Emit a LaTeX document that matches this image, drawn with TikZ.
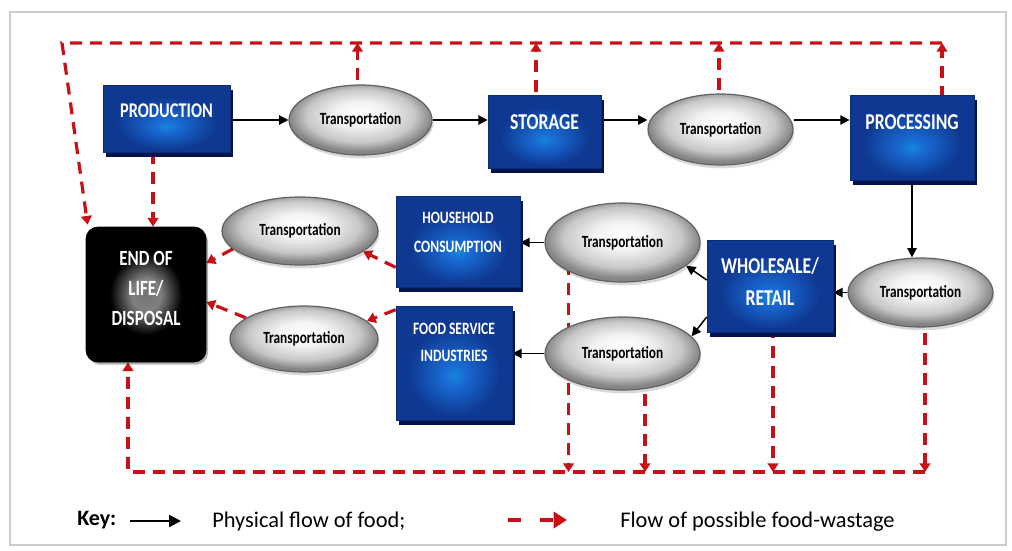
\documentclass[tikz,border=0pt]{standalone}
\usepackage{fontspec}
\setmainfont{Carlito}
\newfontfamily\condf{Carlito}[FakeStretch=0.78]
\usetikzlibrary{arrows.meta,calc,shapes.geometric,shadows,backgrounds}
\definecolor{bxlight}{RGB}{25,105,210}
\definecolor{bxdark}{RGB}{14,56,145}
\definecolor{bxshadow}{RGB}{4,20,78}
\definecolor{wred}{RGB}{200,16,22}
\pgfdeclareradialshading{boxsh}{\pgfpoint{0bp}{-6bp}}{color(0bp)=(bxlight!80!cyan); color(5bp)=(bxlight); color(20bp)=(bxdark); color(50bp)=(bxdark)}
\pgfdeclareradialshading{ellsh}{\pgfpoint{0bp}{5bp}}{color(0bp)=(white); color(9bp)=(white!95!black); color(19bp)=(black!22); color(25bp)=(black!48); color(50bp)=(black!48)}
\pgfdeclareradialshading{eolsh}{\pgfpoint{0bp}{0bp}}{color(0bp)=(black!55); color(6bp)=(black!50); color(15bp)=(black); color(50bp)=(black)}
\tikzset{
  bluebox/.style={rectangle, shade, shading=boxsh, draw=bxdark!80!black, line width=0.5pt,
    inner sep=0pt, text=white, align=center,
    drop shadow={shadow xshift=2pt, shadow yshift=-3.5pt, fill=bxshadow, opacity=1}},
  trans/.style={ellipse, shade, shading=ellsh, draw=black!62, line width=0.9pt, inner sep=0pt,
    text=black, font=\condf\bfseries\fontsize{12.8pt}{14pt}\selectfont,
    drop shadow={shadow xshift=1pt, shadow yshift=-2.5pt, fill=black, opacity=0.15}},
  eolbox/.style={rectangle, rounded corners=9pt, shade, shading=eolsh, draw=black, line width=0.6pt,
    inner sep=0pt, text=white, align=center,
    drop shadow={shadow xshift=1.5pt, shadow yshift=-2pt, fill=black, opacity=0.3}},
  waste/.style={draw=wred, line width=2.4pt, dash pattern=on 9pt off 6pt,
    -{Triangle[length=6.5pt,width=8pt]}},
  flow/.style={draw=black, line width=1.1pt, -{Triangle[length=7pt,width=7pt]}},
  keytext/.style={anchor=west, inner sep=0pt, font=\fontsize{16.8pt}{18pt}\selectfont}
}
\begin{document}
\begin{tikzpicture}[x=0.75pt,y=-0.75pt]
\useasboundingbox (0,0) rectangle (1012,550);
\begin{scope}[on background layer]
  \fill[white] (0,0) rectangle (1012,550);
  \draw[black!20, line width=0.8pt] (10,12) rectangle (1006,545);
\end{scope}

% boxes
\node[bluebox, font=\condf\bfseries\fontsize{15.7pt}{20pt}\selectfont, minimum width=95.25pt, minimum height=50.25pt, text depth=11.25pt] (prod) at (166.5,118.5) {PRODUCTION};
\node[bluebox, font=\condf\bfseries\fontsize{17pt}{20pt}\selectfont, minimum width=84.75pt, minimum height=54.75pt, text depth=14.25pt] (stor) at (544.5,131.5) {STORAGE};
\node[bluebox, font=\condf\bfseries\fontsize{17pt}{20pt}\selectfont, minimum width=93pt, minimum height=63.75pt, text depth=22.5pt] (proc) at (912,137.5) {PROCESSING};
\node[bluebox, font=\condf\bfseries\fontsize{13pt}{22pt}\selectfont, minimum width=93pt, minimum height=68.25pt, text depth=14.25pt] (hh) at (458,241.5) {HOUSEHOLD\\CONSUMPTION};
\node[bluebox, font=\condf\bfseries\fontsize{13pt}{20pt}\selectfont, minimum width=87pt, minimum height=85.5pt, text depth=31.5pt] (fs) at (454,363) {FOOD SERVICE\\INDUSTRIES};
\node[bluebox, font=\condf\bfseries\fontsize{17pt}{24pt}\selectfont, minimum width=94.5pt, minimum height=69pt, text depth=6pt] (wr) at (770,286) {WHOLESALE/\\RETAIL};
\node[eolbox, font=\condf\bfseries\fontsize{16.3pt}{22.5pt}\selectfont, minimum width=90pt, minimum height=101.25pt, text depth=9pt] (eol) at (146,294.5) {END OF\\LIFE/\\DISPOSAL};

% transport ellipses
\node[trans, minimum width=107.25pt, minimum height=52.5pt] (t1) at (360.5,120) {Transportation};
\node[trans, minimum width=108.75pt, minimum height=53.25pt] (t2) at (720.5,129.5) {Transportation};
\node[trans, minimum width=108.75pt, minimum height=51.75pt] (tr) at (920.5,292.5) {Transportation};
\node[trans, minimum width=116.25pt, minimum height=59.25pt] (thhr) at (622.5,242.5) {Transportation};
\node[trans, minimum width=116.25pt, minimum height=54.75pt] (tfsr) at (622.5,353.5) {Transportation};
\node[trans, minimum width=117pt, minimum height=51pt] (thhl) at (300,231) {Transportation};
\node[trans, minimum width=111pt, minimum height=49.5pt] (tfsl) at (304,339) {Transportation};

% key
\node[anchor=west, inner sep=0pt, font=\bfseries\fontsize{16.5pt}{18pt}\selectfont] (key) at (77,520) {Key:};
\coordinate (kf1) at (130,521);
\coordinate (kf2) at (181,521);
\node[keytext] (k1) at (212,522) {Physical flow of food;};
\coordinate (kw1) at (508,520);
\coordinate (kw2) at (567,520);
\node[keytext] (k2) at (620,522) {Flow of possible food-wastage};
\draw[flow, line width=1.5pt, -{Triangle[length=9pt,width=9pt]}] (kf1) -- (kf2);
\draw[draw=wred, line width=3.6pt, dash pattern=on 10pt off 14pt, -{Triangle[length=10pt,width=12pt]}] (kw1) -- (kw2);

\begin{scope}[on background layer]
  % frame coordinates of the wastage collectors
  \coordinate (tl) at (62,43);
  \coordinate (tr0) at (942,43);
  \coordinate (bl) at (128,472);
  \coordinate (br) at (925,472);
  % top collector to disposal
  \draw[waste] (tr0) -- (tl) -- ($(eol.north west)+(2,-2)$);
  \coordinate (pd) at ($(prod.south)+(-13.5,0)$);
  \draw[waste] (pd) -- (pd |- eol.north);
  \coordinate (u1) at ($(t1.center)+(-3,0)$);
  \coordinate (u2) at ($(stor.center)+(-8.5,0)$);
  \coordinate (u3) at ($(t2.center)+(-1.5,0)$);
  \coordinate (u4) at ($(proc.center)+(30,0)$);
  \draw[waste] (u1) -- (u1 |- tl);
  \draw[waste] (u2) -- (u2 |- tl);
  \draw[waste] (u3) -- (u3 |- tl);
  \draw[waste] (u4) -- (u4 |- tl);
  % bottom collector to disposal
  \draw[waste] (br) -- (bl) -- (bl |- eol.south);
  \coordinate (d1) at ($(thhr.center)+(-54,0)$);
  \coordinate (d2) at ($(tfsr.center)+(22.5,0)$);
  \coordinate (d3) at ($(wr.center)+(3,0)$);
  \coordinate (d4) at ($(tr.center)+(4.5,0)$);
  \draw[waste] (d1) -- (d1 |- bl);
  \draw[waste] (d2) -- (d2 |- bl);
  \draw[waste] (d3) -- (d3 |- bl);
  \draw[waste] (d4) -- (d4 |- bl);
  % consumption side
  \draw[waste] ($(hh.south west)+(0,-20)$) -- (thhl.-18);
  \draw[waste] (thhl.195) -- ($(eol.east)+(0,-31.5)$);
  \draw[waste] ($(fs.north west)+(0,4)$) -- (tfsl.16);
  \draw[waste] (tfsl.160) -- ($(eol.east)+(0,7.5)$);
  % physical flow
  \draw[flow] (prod.east |- t1.center) -- (t1.west);
  \draw[flow] (t1.east) -- (t1.east -| stor.west);
  \draw[flow] (stor.east |- t1.center) -- (t2.west |- t1.center);
  \draw[flow] (t2.east |- t1.center) -- (proc.west |- t1.center);
  \draw[flow] (proc.south) -- (proc.south |- tr.north);
  \draw[flow] (tr.west) -- (tr.west -| wr.east);
  \draw[flow] ($(wr.west)+(0,-6)$) -- (thhr.-20);
  \draw[flow] ($(wr.west)+(0,31)$) -- (tfsr.14);
  \draw[flow] (thhr.west) -- (thhr.west -| hh.east);
  \draw[flow] (tfsr.west) -- (tfsr.west -| fs.east);
\end{scope}
\end{tikzpicture}
\end{document}
